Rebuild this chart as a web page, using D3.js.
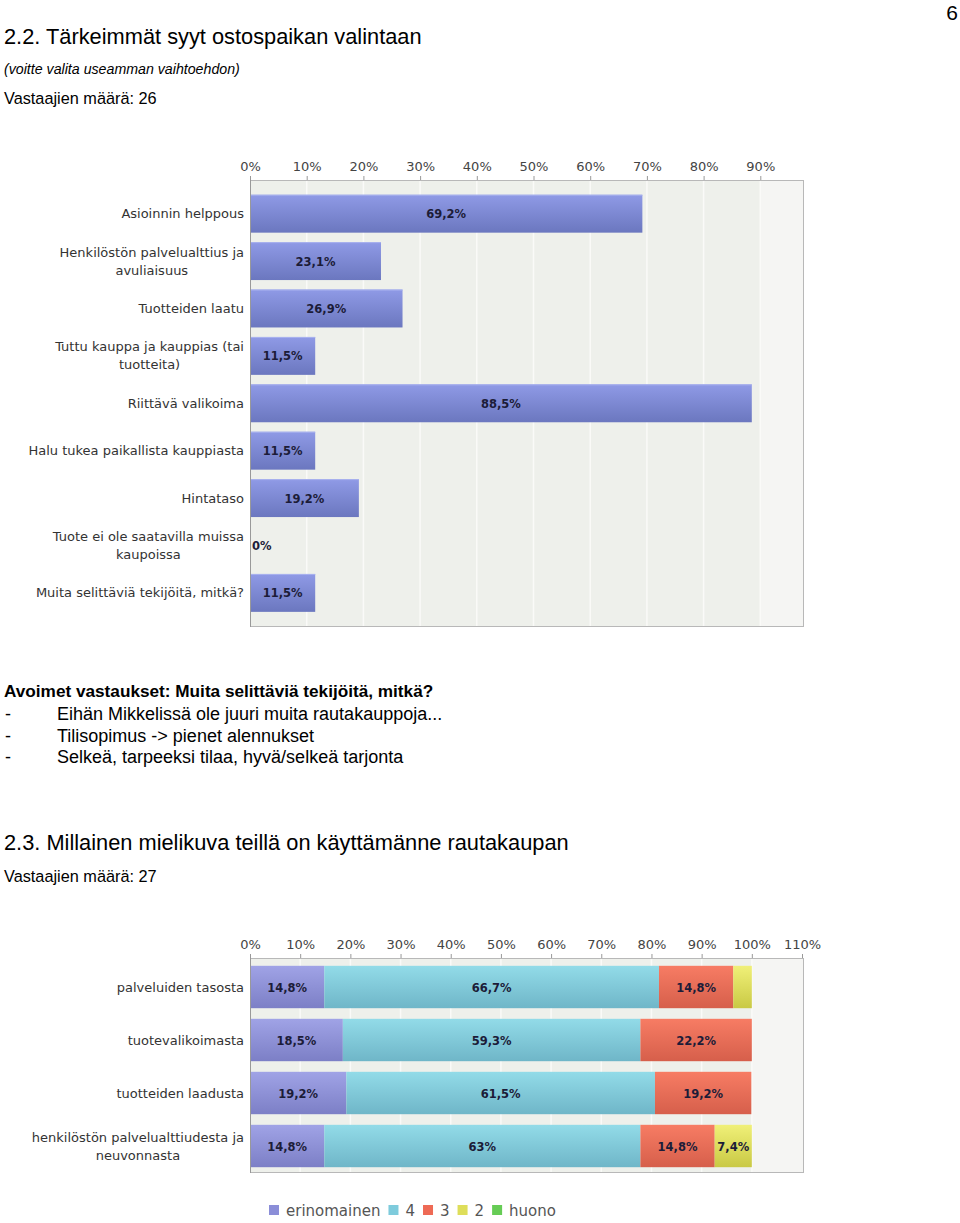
<!DOCTYPE html>
<html><head><meta charset="utf-8">
<script src="https://cdn.jsdelivr.net/npm/d3@7"></script>
<style>body{margin:0;background:#fff}svg{display:block}</style>
</head><body>
<script>
// ---- data ----
const reasonCategories = ["Asioinnin helppous","Henkilöstön palvelualttius ja|avuliaisuus","Tuotteiden laatu","Tuttu kauppa ja kauppias (tai|tuotteita)","Riittävä valikoima","Halu tukea paikallista kauppiasta","Hintataso","Tuote ei ole saatavilla muissa|kaupoissa","Muita selittäviä tekijöitä, mitkä?"];
const reasonValues = [69.2, 23.1, 26.9, 11.5, 88.5, 11.5, 19.2, 0, 11.5];
const reasonTicks = [0,10,20,30,40,50,60,70,80,90];

const imageCategories = ["palveluiden tasosta","tuotevalikoimasta","tuotteiden laadusta","henkilöstön palvelualttiudesta ja|neuvonnasta"];
const imageSeries = ["erinomainen","4","3","2","huono"];
const erinomainen = [14.8, 18.5, 19.2, 14.8];
const s4 = [66.7, 59.3, 61.5, 63];
const s3 = [14.8, 22.2, 19.2, 14.8];
const s2 = [3.7, 0, 0, 7.4];
const huono = [0, 0, 0, 0];
const imageTicks = [0,10,20,30,40,50,60,70,80,90,100,110];

const openAnswers = ["Eihän Mikkelissä ole juuri muita rautakauppoja...","Tilisopimus -> pienet alennukset","Selkeä, tarpeeksi tilaa, hyvä/selkeä tarjonta"];

// ---- drawing ----
const W = 960, H = 1223;
const svg = d3.select("body").append("svg").attr("width", W).attr("height", H);
const defs = svg.append("defs");
function grad(id, top, bot){
  const g = defs.append("linearGradient").attr("id", id).attr("x1",0).attr("y1",0).attr("x2",0).attr("y2",1);
  g.append("stop").attr("offset","0%").attr("stop-color", top);
  g.append("stop").attr("offset","100%").attr("stop-color", bot);
}
grad("gTop", "#8f9ae6", "#6b77bf");
grad("g0", "#a0a3e6", "#7c7fc6");
grad("g1", "#92dbe8", "#6fb6c8");
grad("g2", "#f77c64", "#d65f4b");
grad("g3", "#f0f078", "#c9c944");
grad("g4", "#7fd86c", "#55b844");
const solid = ["#8b8ed8","#7ecbdc","#ee6a55","#dede5a","#66cc55"];

const font = "Liberation Sans, Arial, sans-serif";
const cfont = "DejaVu Sans, Verdana, sans-serif";
const fmt = v => String(v).replace(".", ",") + "%";

function txt(x, y, s, size, opts={}){
  const t = svg.append("text").attr("x", x).attr("y", y).text(s)
    .attr("font-family", opts.family || font).attr("font-size", size).attr("fill", opts.fill || "#000");
  if (opts.bold) t.attr("font-weight", "bold");
  if (opts.italic) t.attr("font-style", "italic");
  if (opts.anchor) t.attr("text-anchor", opts.anchor);
  return t;
}

// headings
txt(4, 44, "2.2. Tärkeimmät syyt ostospaikan valintaan", 21.8);
txt(4, 74, "(voitte valita useamman vaihtoehdon)", 14.2, {italic:true});
txt(4, 104, "Vastaajien määrä: 26", 16.3);
txt(958, 20, "6", 21, {anchor:"end"});

function catLabel(g, label, xRight, yc){
  const lines = label.split("|");
  const lh = 18;
  const t = g.append("text").attr("font-family", cfont).attr("font-size", 13).attr("fill", "#333");
  lines.forEach((l,i)=> t.append("tspan").text(l));
  const tsp = t.selectAll("tspan").nodes();
  const maxW = d3.max(tsp, n => n.getComputedTextLength());
  const cx = xRight - maxW/2;
  const y0 = yc - (lines.length-1)*lh/2 + 4.5;
  tsp.forEach((n,i)=> d3.select(n).attr("x", cx).attr("y", y0 + i*lh).attr("text-anchor","middle"));
}

function frame(g, x0, x1, y0, y1, x, ticks, lightFrom){
  g.append("rect").attr("x", x0).attr("y", y0).attr("width", x1-x0).attr("height", y1-y0).attr("fill", "#eef0eb");
  g.append("rect").attr("x", x(lightFrom)).attr("y", y0).attr("width", x1-x(lightFrom)).attr("height", y1-y0).attr("fill", "#f5f5f3");
  g.selectAll(".grid").data(ticks.filter(d=>d>0 && x(d) < x1-2)).join("line")
    .attr("x1", d=>x(d)).attr("x2", d=>x(d)).attr("y1", y0).attr("y2", y1)
    .attr("stroke", "#fafaf8").attr("stroke-width", 1.5);
  g.append("rect").attr("x", x0+0.5).attr("y", y0+0.5).attr("width", x1-x0-1).attr("height", y1-y0-1)
    .attr("fill", "none").attr("stroke", "#b8b8b8");
  g.append("line").attr("x1", x0+0.5).attr("x2", x0+0.5).attr("y1", y0).attr("y2", y1).attr("stroke", "#999");
  const ax = g.append("g").attr("transform", `translate(0,${y0})`)
    .call(d3.axisTop(x).tickValues(ticks).tickSize(4).tickPadding(5).tickFormat(d=>d+"%"));
  ax.select(".domain").remove();
  ax.selectAll("line").attr("stroke", "#999");
  ax.selectAll("text").attr("font-family", cfont).attr("font-size", 13).attr("fill", "#444");
}

function valLabel(g, s){
  return g.append("text").text(s).attr("font-family", cfont).attr("font-size", 11.5).attr("font-weight","bold")
    .attr("fill", "#1c1c38");
}

// ---- chart 1 ----
{
  const g = svg.append("g");
  const x = d3.scaleLinear().domain([0, 100]).range([250, 817]);
  const y = d3.scaleBand().domain(reasonCategories).range([190, 616.6]).paddingInner(0.2).paddingOuter(0.1);
  frame(g, 250, 804, 180, 627, x, reasonTicks, 90);
  reasonCategories.forEach((c,i)=>{
    const v = reasonValues[i];
    const yc = y(c) + y.bandwidth()/2;
    catLabel(g, c, 244, yc);
    if (v > 0) {
      g.append("rect").attr("x", x(0)+1).attr("y", y(c)).attr("width", x(v)-x(0)-1).attr("height", y.bandwidth())
        .attr("fill", "url(#gTop)");
      g.append("line").attr("x1", x(0)+1).attr("x2", x(v)).attr("y1", y(c)+0.5).attr("y2", y(c)+0.5).attr("stroke", "#a9b2ee");
    }
    const t = valLabel(g, fmt(v)).attr("y", yc + 4.5);
    if (v > 0) t.attr("x", (x(0)+x(v))/2).attr("text-anchor", "middle");
    else t.attr("x", x(0)+2);
  });
}

// open answers
txt(4, 697, "Avoimet vastaukset: Muita selittäviä tekijöitä, mitkä?", 17.2, {bold:true});
openAnswers.forEach((a,i)=>{
  txt(5, 720 + i*21.5, "-", 18);
  txt(57, 720 + i*21.5, a, 18);
});

txt(4, 850, "2.3. Millainen mielikuva teillä on käyttämänne rautakaupan", 21.8);
txt(4, 882, "Vastaajien määrä: 27", 16.3);

// ---- chart 2 ----
{
  const g = svg.append("g");
  const x = d3.scaleLinear().domain([0, 110]).range([250, 802]);
  const y = d3.scaleBand().domain(imageCategories).range([960.5, 1172.5]).paddingInner(0.2).paddingOuter(0.1);
  frame(g, 250, 804, 958, 1173, x, imageTicks, 100);
  const series = [erinomainen, s4, s3, s2, huono];
  imageCategories.forEach((c,i)=>{
    const yc = y(c) + y.bandwidth()/2;
    catLabel(g, c, 244, yc);
    let acc = 0;
    series.forEach((s,k)=>{
      const v = s[i];
      if (v <= 0) return;
      const x0 = x(acc), x1 = x(acc+v);
      g.append("rect").attr("x", x0 + (k===0?1:0)).attr("y", y(c)).attr("width", x1-x0-(k===0?1:0)).attr("height", y.bandwidth())
        .attr("fill", `url(#g${k})`);
      if (v >= 5) {
        valLabel(g, fmt(v)).attr("x", (x0+x1)/2).attr("y", yc+4.5).attr("text-anchor","middle");
      }
      acc += v;
    });
  });
  // legend
  const lg = svg.append("g").attr("transform", "translate(269,1210)");
  let lx = 0;
  imageSeries.forEach((s,k)=>{
    lg.append("rect").attr("x", lx).attr("y", -5).attr("width", 10).attr("height", 10).attr("fill", solid[k]);
    const t = lg.append("text").attr("x", lx+17).attr("y", 6).text(s).attr("font-family", cfont).attr("font-size", 15).attr("fill", "#555");
    lx += 17 + t.node().getComputedTextLength() + 8;
  });
}
</script>
</body></html>
